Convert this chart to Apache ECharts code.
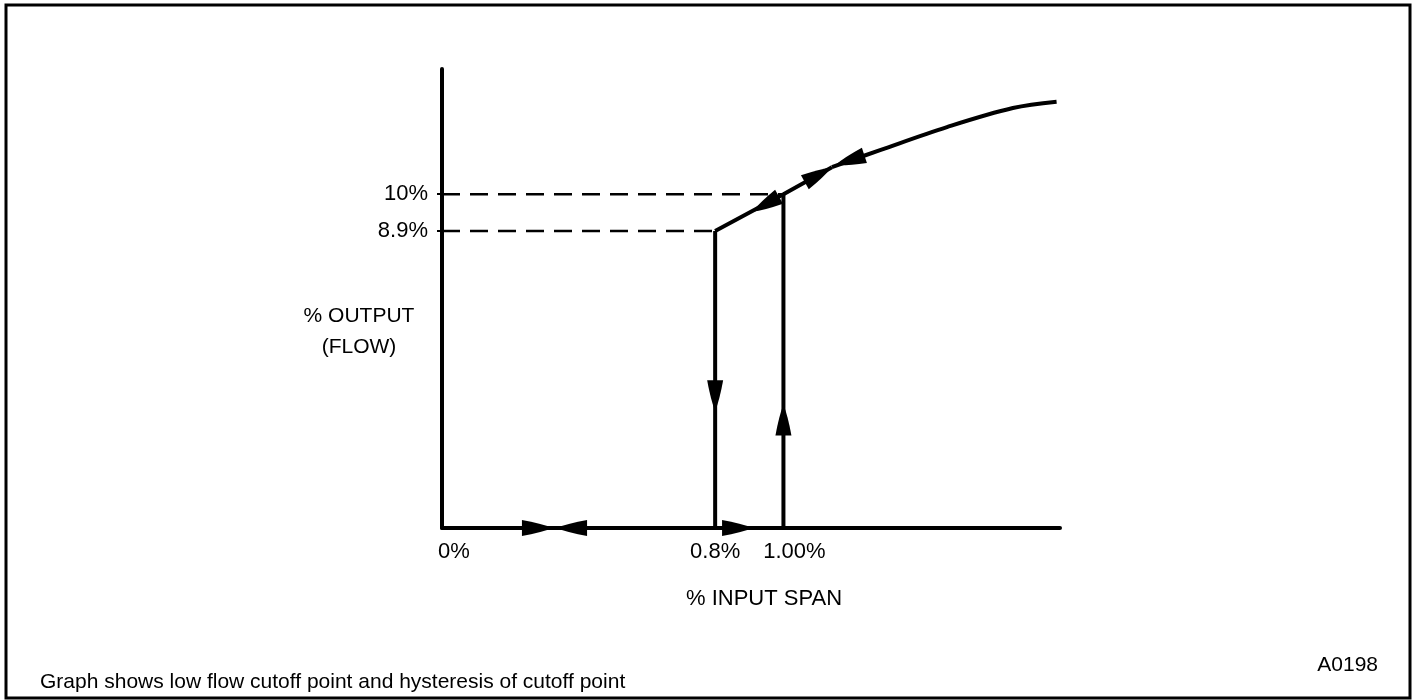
<!DOCTYPE html>
<html><head><meta charset="utf-8">
<script src="https://cdn.jsdelivr.net/npm/echarts@6/dist/echarts.min.js"></script>
<style>html,body{margin:0;padding:0;background:#fff}#c{width:1417px;height:700px}</style>
</head><body><div id="c"></div>
<script>
// ---- data ----
const xTicks = [0, 0.8, 1.0];
const xTickLabels = ['0%', '0.8%', '1.00%'];
const yTicks = [8.9, 10];
const yTickLabels = ['8.9%', '10%'];
const cutoffUp = [[1.0, 0], [1.0, 10]];
const cutoffDown = [[0.8, 8.9], [0.8, 0]];
const lowSegment = [[0.8, 8.9], [1.0, 10], [1.142, 10.81]];
const flowCurve = [[1.142, 10.81], [1.283, 11.32], [1.479, 12.01], [1.672, 12.58], [1.80, 12.77]];
const guide10 = [[0, 10], [1.0, 10]];
const guide89 = [[0, 8.9], [0.8, 8.9]];
const arrowTips = [[0.325, 0], [0.334, 0], [0.911, 0], [0.8, 3.5], [1.0, 3.7], [0.908, 9.47], [1.142, 10.81], [1.151, 10.87]];
const arrowFrom = [[0, 0], [1.0, 0], [0.8, 0], [0.8, 8.9], [1.0, 0], [1.0, 10], [1.0, 10], [1.283, 11.32]];

// ---- styling ----
const FONT = '"Liberation Sans", Arial, Helvetica, sans-serif';
const xLabelShift = {'0%': 24, '0.8%': 0, '1.00%': 22};
const ARROW_LEN = 31, ARROW_W = 16;
const arrowPath = 'path://M8,0 Q12.6,12 16,31 L0,31 Q3.4,12 8,0 Z';

function lineSeries(data, width, type, smooth) {
  return {
    type: 'line', data: data, showSymbol: false, symbol: 'none', silent: true,
    smooth: smooth || false,
    lineStyle: {color: '#000', width: width, type: type || 'solid', cap: 'butt'},
    z: 3
  };
}

const option = {
  animation: false,
  backgroundColor: '#fff',
  grid: {left: 442, right: 357, top: 69, bottom: 172, containLabel: false, outerBoundsMode: 'none'},
  xAxis: {
    type: 'value', min: 0, max: 1.81,
    axisLine: {show: true, lineStyle: {color: '#000', width: 4}},
    axisTick: {show: false},
    splitLine: {show: false},
    axisLabel: {
      show: true, customValues: xTicks, margin: 13, color: '#000',
      formatter: function (v) {
        const i = xTicks.indexOf(v);
        const t = i >= 0 ? xTickLabels[i] : '';
        return '{s' + (xLabelShift[t] || 0) + '|' + t + '}';
      },
      rich: {
        s0: {fontSize: 22, fontFamily: FONT, color: '#000'},
        s22: {fontSize: 22, fontFamily: FONT, color: '#000', padding: [0, 0, 0, 22]},
        s24: {fontSize: 22, fontFamily: FONT, color: '#000', padding: [0, 0, 0, 24]}
      }
    },
    name: '% INPUT SPAN', nameLocation: 'middle', nameGap: 60,
    nameTextStyle: {fontSize: 22, fontFamily: FONT, color: '#000', padding: [0, 0, 0, 26]}
  },
  yAxis: {
    type: 'value', min: 0, max: 13.75,
    axisLine: {show: true, lineStyle: {color: '#000', width: 4}},
    axisTick: {show: true, customValues: yTicks, length: 5, lineStyle: {color: '#000', width: 2}},
    splitLine: {show: false},
    axisLabel: {
      show: true, customValues: yTicks, margin: 14, color: '#000',
      fontSize: 22, fontFamily: FONT,
      formatter: function (v) {
        const i = yTicks.indexOf(v);
        return i >= 0 ? yTickLabels[i] : '';
      }
    }
  },
  graphic: [
    {type: 'rect', shape: {x: 6, y: 5, width: 1404, height: 693},
     style: {fill: 'none', stroke: '#000', lineWidth: 3}, silent: true, z: -1},
    {type: 'text', x: 359, y: 332,
     style: {text: '% OUTPUT\n(FLOW)', align: 'center', verticalAlign: 'middle',
             font: '21px ' + FONT, fill: '#000', lineHeight: 31}},
    {type: 'text', x: 40, y: 682,
     style: {text: 'Graph shows low flow cutoff point and hysteresis of cutoff point',
             align: 'left', verticalAlign: 'middle', font: '21px ' + FONT, fill: '#000'}},
    {type: 'text', x: 1378, y: 665,
     style: {text: 'A0198', align: 'right', verticalAlign: 'middle', font: '21px ' + FONT, fill: '#000'}}
  ],
  series: [
    lineSeries(guide10, 2.5, [18, 10]),
    lineSeries(guide89, 2.5, [18, 10]),
    lineSeries(cutoffDown, 4),
    lineSeries(cutoffUp, 4),
    lineSeries(lowSegment, 4),
    lineSeries(flowCurve, 4, 'solid', 0.35),
    {id: 'arrows', type: 'scatter', data: [], symbol: arrowPath,
     symbolSize: [ARROW_W, ARROW_LEN], symbolKeepAspect: false,
     itemStyle: {color: '#000', opacity: 1},
     silent: true, z: 5}
  ]
};

const chart = echarts.init(document.getElementById('c'), null, {renderer: 'canvas'});
chart.setOption(option);

const arrowData = arrowTips.map(function (tip, i) {
  const p2 = chart.convertToPixel({gridIndex: 0}, tip);
  const p1 = chart.convertToPixel({gridIndex: 0}, arrowFrom[i]);
  const dx = p2[0] - p1[0], dy = p2[1] - p1[1];
  const d = Math.hypot(dx, dy) || 1;
  const ux = dx / d, uy = dy / d;
  const c = [p2[0] - ux * ARROW_LEN / 2, p2[1] - uy * ARROW_LEN / 2];
  const v = chart.convertFromPixel({gridIndex: 0}, c);
  const ang = Math.atan2(-dy, dx) * 180 / Math.PI;
  return {value: v, symbolRotate: ang - 90};
});
chart.setOption({series: [{id: 'arrows', data: arrowData}]});
</script>
</body></html>
